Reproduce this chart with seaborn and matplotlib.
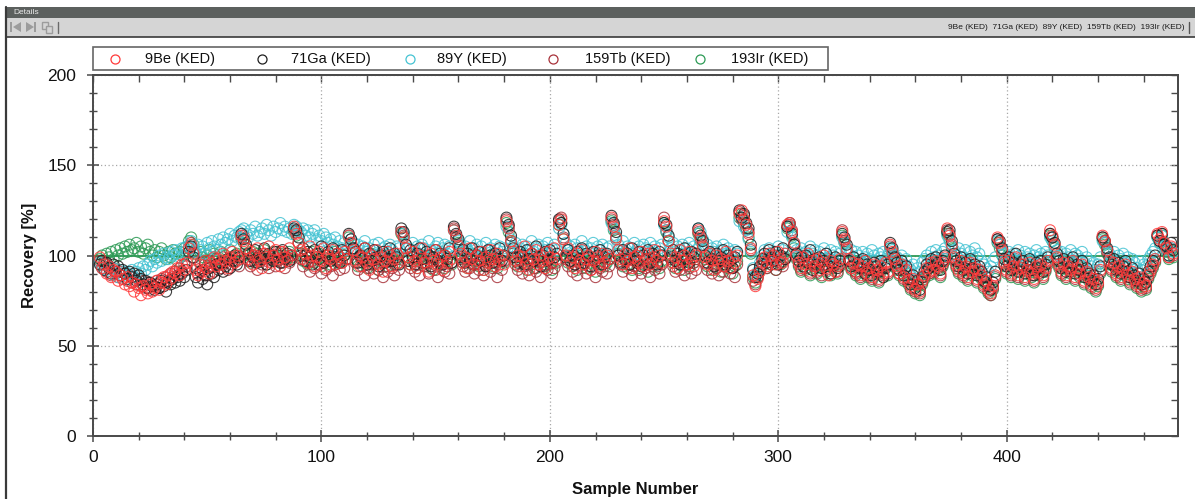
import numpy as np
import pandas as pd
import matplotlib
matplotlib.use("Agg")
import matplotlib.pyplot as plt
import seaborn as sns
from matplotlib.patches import Rectangle, Polygon
from matplotlib.lines import Line2D
from matplotlib.ticker import MultipleLocator

# recovery [%] per sample, one line per calibration block, first sample is no. 3
be9 = """
99 93 95 90 94 88 92 91 86 89 87 84 88 83 85 80 84 82 78 83 81 79 84 80 82 86 81 85 88 84 89 87 91 90 93 89 95 92 96
104 106 101 92 89 95 91 97 93 90 96 99 94 98 95 101 97 93 99 102 96 100 98
111 108 104 98 102 95 100 104 97 93 101 99 105 96 100 103 98 94 102 99 97 104 100
116 112 107 103 98 101 96 105 100 94 99 102 97 104 93 100 98 103 95 101 99 96 102 98
111 107 103 97 101 94 99 104 96 92 100 98 103 95 99 91 97 102 100 94 98 101 96
113 110 104 99 95 102 97 93 100 104 96 98 91 101 97 103 95 99 92 100 96 102 98
114 111 105 101 96 99 93 104 98 95 100 97 102 92 99 96 103 98 94 101 97 100 95
119 115 108 102 97 100 94 99 105 96 92 101 98 103 95 100 97 93 102 99 96 104 98
117 120 109 100 104 96 99 93 101 97 103 95 98 100 92 97 102 99 94 101 96 100 98
121 116 110 103 98 95 101 97 104 93 99 100 96 102 94 98 101 95 99 103 97 100 96
119 116 108 101 96 99 93 103 97 100 95 102 98 94 100
114 110 105 99 95 101 97 92 100 96 98 94 102 97 93 99 96 100
123 125 120 117 112 104 89 83 87 91 96 99 94 101 97 100 95 102 98 96 101
117 118 113 107 100 96 93 99 95 101 91 97 94 98 92 96 100 93 89 97 95 91 94 98
113 109 104 98 93 96 91 95 89 94 97 90 93 88 95 92 87 94 90 96 91
106 102 98 94 90 95 88 92 86 83 87 81 84 80 86 89 93 91 96 92 97 94 90 96 99
115 111 106 99 95 92 97 90 94 88 96 91 93 87 92 89 84 86 81 79 83 89
110 107 103 96 92 97 90 94 99 89 93 95 88 92 96 90 87 94 91 95 89 93 97
114 111 106 99 95 91 96 89 94 92 97 88 93 90 95 86 91 88 84 87 82 85 92
111 108 103 97 93 96 90 94 88 92 95 89 86 91 87 84 88 82 85 83 89 92 95 98
112 109 113 107 104 99 105 101
"""

ga71 = """
95 97 92 96 93 90 95 91 94 89 92 90 87 91 88 90 86 89 87 84 86 82 85 83 81 84 82 86 83 80 85 84 87 85 88 86 90 88 92
102 105 99 88 85 91 87 89 84 93 90 88 95 92 96 91 94 98 93 97 100 95 99
112 109 106 101 97 99 103 96 100 98 104 95 101 99 97 102 100 96 103 98 101 97 100
115 114 110 100 104 97 102 99 95 103 101 98 105 96 100 102 97 104 99 101 96 103 100 98
112 109 104 102 96 100 98 104 95 101 97 103 99 94 100 102 96 98 104 97 101 99 95
115 113 106 97 103 99 95 101 104 98 96 102 100 94 99 103 97 101 95 100 98 104 96
116 112 109 99 103 96 101 98 104 95 100 102 97 99 94 103 100 96 101 98 104 97 100
121 117 111 104 99 96 102 100 95 103 98 101 97 105 99 94 100 102 97 103 96 99 101
120 118 112 99 103 97 100 95 102 98 104 96 101 99 94 102 97 100 103 95 99 101 98
122 118 113 100 96 103 98 101 95 104 99 97 102 94 100 98 103 96 101 99 95 102 100
118 117 111 99 103 97 101 95 100 104 98 96 102 99 101
115 111 108 100 96 102 98 94 101 97 99 103 95 100 97 93 99 102
125 121 123 118 115 106 92 88 90 94 98 101 96 103 99 97 102 95 100 104 98
116 118 112 106 101 97 99 94 100 96 103 92 98 95 99 93 97 101 94 90 96 99 93 97
112 110 106 97 94 99 91 96 93 98 90 95 92 89 96 94 91 97 88 93 95
107 104 99 96 92 97 89 94 87 84 89 82 86 81 88 91 95 93 98 94 99 96 92 97 100
113 114 108 101 97 94 99 92 96 90 98 93 95 89 94 91 86 88 83 81 85 91
109 108 104 98 94 99 92 96 101 91 95 97 90 94 98 92 89 96 93 97 91 95 99
112 110 107 101 97 93 98 91 96 94 99 90 95 92 97 88 93 90 86 89 84 87 94
110 108 104 99 95 98 92 96 90 94 97 91 88 93 89 86 90 84 87 85 91 94 97 100
111 108 112 106 105 100 107 103
"""

y89 = """
96 93 95 92 94 90 93 91 88 92 89 91 87 90 92 88 91 93 90 94 92 95 97 94 98 96 100 97 101 99 98 102 100 103 101 99 104 102 105
105 108 104 102 106 103 105 101 107 104 108 105 103 109 106 110 107 109 112 108 111 110 113
114 115 112 110 114 112 116 111 113 115 112 117 114 111 116 113 115 118 114 116 113 115 112
117 116 114 113 115 111 114 110 112 114 109 111 108 112 110 107 109 106 110 105 108 104 107 103
111 109 107 103 106 101 105 108 102 104 100 106 103 107 101 104 105 102 106 103 100 105 104
113 112 106 104 101 107 103 105 100 106 104 102 108 103 101 105 107 102 104 106 101 105 103
114 111 108 106 102 105 103 108 101 104 106 102 105 100 107 103 104 101 106 103 105 102 104
116 115 109 105 107 102 104 106 101 105 103 108 102 104 106 100 105 103 107 101 104 106 103
115 117 112 107 103 105 101 106 104 102 108 103 105 100 104 107 102 105 103 106 101 104 105
118 115 111 106 103 108 102 105 104 101 107 103 105 100 106 104 102 107 103 105 101 104 106
117 114 110 104 107 102 105 103 106 101 104 107 102 105 103
115 113 109 103 106 101 104 102 105 100 103 106 101 104 102 99 103 101
119 121 116 114 109 102 93 89 91 96 100 103 99 104 101 102 98 105 100 103 101
113 116 110 107 103 100 104 101 102 99 105 101 103 100 102 98 104 101 99 103 100 102 98 101
110 107 104 101 103 99 102 100 97 102 99 101 98 103 100 97 101 99 102 98 100
104 103 100 99 96 100 95 98 94 92 95 90 93 91 96 98 100 97 102 99 103 100 98 102 104
111 108 106 103 100 104 101 99 103 98 102 100 104 99 101 97 95 93 91 94 97 99
108 106 104 101 98 102 99 101 97 103 100 98 102 99 101 97 100 103 99 101 98 102 100
110 108 105 103 100 102 98 101 99 103 97 101 100 98 102 96 99 97 94 96 92 95 99
108 107 103 101 99 102 97 100 98 101 96 99 95 98 96 93 97 92 95 94 98 100 102 104
110 107 111 105 103 100 104 102
"""

tb159 = """
97 93 96 91 94 89 93 90 88 91 87 90 86 89 85 88 84 87 83 86 82 85 81 84 83 86 82 87 85 88 86 90 88 91 89 93 91 95 94
105 107 102 93 90 96 92 95 89 97 94 91 98 95 93 99 96 92 98 95 99 97 94
110 111 104 97 94 100 96 92 99 95 101 97 93 98 100 94 97 102 96 93 99 96 98
114 113 107 98 94 100 96 91 97 93 99 95 90 96 92 98 94 89 95 97 92 96 93 98
111 107 104 96 92 99 94 89 97 93 95 90 98 92 96 88 94 91 97 93 89 95 92
113 111 104 97 93 99 91 95 89 98 94 96 90 93 99 92 88 95 97 91 94 90 96
115 110 106 98 94 91 97 93 100 90 95 92 96 89 94 98 91 93 96 88 95 92 97
120 116 107 99 95 92 97 90 94 98 89 96 93 91 97 88 94 95 92 98 90 93 96
119 121 110 98 94 97 91 95 89 96 93 99 90 94 92 97 88 95 93 91 96 90 94
120 117 109 100 95 91 97 93 98 89 94 96 92 90 97 93 95 88 96 92 94 90 95
121 114 108 98 94 91 96 92 97 89 95 93 90 96 92
113 109 106 96 92 98 90 95 93 89 97 91 94 96 90 93 88 95
124 120 122 115 113 103 86 84 88 92 95 97 93 99 95 98 92 100 96 94 98
116 117 114 106 99 95 92 97 93 99 90 96 94 91 97 89 95 92 98 90 94 96 91 95
114 108 103 97 93 95 90 94 88 96 92 89 93 87 94 91 86 92 89 95 90
105 101 97 93 90 94 87 91 85 82 86 80 84 79 85 88 92 90 95 91 96 93 89 95 98
114 112 105 98 94 91 96 89 93 87 95 90 92 86 91 88 83 85 80 78 82 88
109 106 102 95 91 96 89 93 98 88 92 94 87 91 95 89 86 93 90 94 88 92 96
112 110 105 98 94 90 95 88 93 91 96 87 92 89 94 85 90 87 83 86 81 84 91
110 107 102 96 92 95 89 93 87 91 94 88 85 90 86 83 87 81 84 82 88 91 94 97
111 108 112 106 103 99 104 100
"""

ir193 = """
98 100 97 101 99 102 98 103 100 104 101 105 102 106 103 104 107 102 105 101 104 106 102 100 103 99 102 104 100 98 102 99 103 101 97 102 100 104 101
108 110 106 101 97 102 99 96 100 103 98 101 97 99 102 96 100 98 103 99 97 101 100
109 107 104 100 96 102 98 101 97 99 103 95 100 98 102 97 99 101 96 100 98 102 99
113 111 107 101 97 100 95 99 102 96 98 101 94 99 97 100 95 98 102 96 99 97 100 98
110 107 103 98 94 100 96 99 93 97 101 95 98 92 99 96 100 94 97 99 95 98 96
112 110 104 99 95 97 101 93 98 96 100 94 97 99 92 98 95 100 96 93 99 97 95
114 110 107 100 96 98 93 99 95 101 97 94 98 92 100 96 99 94 97 93 98 100 96
118 113 108 101 97 94 99 96 100 92 98 95 97 93 99 96 101 94 98 95 92 99 97
117 118 109 100 96 99 94 98 92 97 100 95 93 99 96 98 91 97 95 100 94 96 98
119 114 110 101 97 94 99 95 100 92 98 96 93 99 95 97 91 98 94 100 96 93 97
118 113 108 100 96 93 98 95 99 92 97 94 100 96 98
112 108 104 98 94 99 92 96 93 97 91 95 98 93 96 90 94 97
121 123 118 115 110 101 88 85 88 92 94 97 93 99 95 98 92 100 95 97 99
115 116 111 104 98 94 91 96 92 97 89 95 93 90 96 88 94 91 97 89 93 95 90 94
111 107 102 96 92 94 89 93 87 95 91 88 92 86 93 90 85 91 88 94 89
104 100 96 92 89 93 86 90 84 81 85 79 83 78 84 87 91 89 94 90 95 92 88 94 97
112 109 104 97 93 90 95 88 92 86 94 89 91 85 90 87 82 84 79 78 81 87
107 104 100 94 90 95 88 92 97 87 91 93 86 90 94 88 85 92 89 93 87 91 95
111 108 104 97 93 89 94 87 92 90 95 86 91 88 93 84 89 86 82 85 80 83 90
109 106 101 95 91 94 88 92 86 90 93 87 84 89 85 82 86 80 83 81 87 90 93 96
110 107 111 105 102 98 103 99
"""

elements = ["9Be (KED)", "71Ga (KED)", "89Y (KED)", "159Tb (KED)", "193Ir (KED)"]
raw = [be9, ga71, y89, tb159, ir193]
colors = ["#ff3a3a", "#1e1e1e", "#45c3d3", "#a8323a", "#2d9a55"]
palette = dict(zip(elements, colors))

frames = []
for name, txt in zip(elements, raw):
    vals = [float(v) for v in txt.split()]
    frames.append(pd.DataFrame({"sample": np.arange(3, 3 + len(vals)),
                                "recovery": vals, "element": name}))
df = pd.concat(frames, ignore_index=True)

W, H = 1195, 499


def fx(px):
    return px / W


def fy(py):
    return 1 - py / H


sns.set_style("ticks")
plt.rcParams["font.family"] = ["Liberation Sans", "DejaVu Sans"]

fig = plt.figure(figsize=(W / 100, H / 100), dpi=100)
fig.patch.set_facecolor("white")

# window chrome: title bar + toolbar
fig.add_artist(Rectangle((fx(6), fy(18)), 1 - fx(6), 11 / H, transform=fig.transFigure,
                         fc="#5c605e", ec="none"))
fig.add_artist(Rectangle((fx(6), fy(37)), 1 - fx(6), 19 / H, transform=fig.transFigure,
                         fc="#d5d5d5", ec="none"))
fig.add_artist(Line2D([fx(6), 1], [fy(37), fy(37)], transform=fig.transFigure,
                      color="#3a3a3a", lw=1.2))
fig.add_artist(Line2D([fx(6.5), fx(6.5)], [fy(7), 0], transform=fig.transFigure,
                      color="#3a3a3a", lw=1.6))
fig.text(fx(13), fy(12.5), "Details", fontsize=6, color="#e8e8e8", va="center")

icon = "#9c9c9c"
fig.add_artist(Rectangle((fx(10), fy(32)), 2 / W, 10 / H, transform=fig.transFigure, fc=icon, ec="none"))
fig.add_artist(Polygon([(fx(21), fy(22)), (fx(21), fy(32)), (fx(13), fy(27))],
                       transform=fig.transFigure, fc=icon, ec="none"))
fig.add_artist(Polygon([(fx(26), fy(22)), (fx(26), fy(32)), (fx(34), fy(27))],
                       transform=fig.transFigure, fc=icon, ec="none"))
fig.add_artist(Rectangle((fx(34), fy(32)), 2 / W, 10 / H, transform=fig.transFigure, fc=icon, ec="none"))
fig.add_artist(Rectangle((fx(42), fy(29)), 6 / W, 7 / H, transform=fig.transFigure,
                         fc="none", ec=icon, lw=1))
fig.add_artist(Rectangle((fx(46), fy(33)), 6 / W, 7 / H, transform=fig.transFigure,
                         fc="#d5d5d5", ec=icon, lw=1))
fig.add_artist(Line2D([fx(58), fx(58)], [fy(22), fy(33)], transform=fig.transFigure,
                      color="#6a6a6a", lw=1))
fig.text(fx(1184), fy(27.5), "  ".join(elements), fontsize=6, color="#1a1a1a",
         ha="right", va="center")
fig.add_artist(Line2D([fx(1189), fx(1189)], [fy(22), fy(33)], transform=fig.transFigure,
                      color="#555555", lw=1))

# legend box
fig.add_artist(Rectangle((fx(93), fy(70)), 735 / W, 23 / H, transform=fig.transFigure,
                         fc="white", ec="#666666", lw=1.2))
marker_x = [115, 262, 410, 553, 700]
text_x = [145, 291, 437, 585, 731]
for name, mx, tx in zip(elements, marker_x, text_x):
    fig.add_artist(Line2D([fx(mx)], [fy(58.5)], transform=fig.transFigure, marker="o",
                          ms=6.5, mfc="none", mec=palette[name], mew=0.9, ls="none"))
    fig.text(fx(tx), fy(58.5), name, fontsize=10.5, color="#111111", va="center", ha="left")

# plot area
ax = fig.add_axes([fx(93), fy(436), 1085 / W, 361 / H])
ax.set_facecolor("white")

for name in elements[::-1]:
    sub = df[df["element"] == name]
    sns.scatterplot(data=sub, x="sample", y="recovery", ax=ax, color=palette[name],
                    facecolor="none", edgecolor=palette[name], s=62, linewidth=0.8,
                    alpha=0.85, legend=False, zorder=3)

ax.axhline(100, color="#2d9a55", lw=1.3, zorder=2)

ax.set_xlim(0, 475)
ax.set_ylim(0, 200)
ax.xaxis.set_major_locator(MultipleLocator(100))
ax.xaxis.set_minor_locator(MultipleLocator(20))
ax.yaxis.set_major_locator(MultipleLocator(50))
ax.yaxis.set_minor_locator(MultipleLocator(10))
ax.grid(True, which="major", color="#a8a8a8", linestyle=(0, (1, 2)), lw=0.9, zorder=0)

spine_col = "#4a4a4a"
for side in ["left", "bottom", "top", "right"]:
    ax.spines[side].set_visible(True)
    ax.spines[side].set_color(spine_col)
    ax.spines[side].set_linewidth(1.4)

ax.tick_params(which="both", direction="inout", color=spine_col, labelsize=12.5,
               labelcolor="#111111")
ax.tick_params(which="major", length=8, width=1.1)
ax.tick_params(which="minor", length=6, width=1.0)
ax.tick_params(axis="x", which="major", pad=6)
ax.tick_params(axis="y", which="major", pad=8)

top = ax.secondary_xaxis("top")
top.xaxis.set_major_locator(MultipleLocator(100))
top.xaxis.set_minor_locator(MultipleLocator(20))
top.tick_params(which="both", direction="in", labeltop=False, color=spine_col, length=5, width=1)
top.spines["top"].set_color(spine_col)
top.spines["top"].set_linewidth(1.4)

right = ax.secondary_yaxis("right")
right.yaxis.set_major_locator(MultipleLocator(50))
right.yaxis.set_minor_locator(MultipleLocator(10))
right.tick_params(which="both", direction="in", labelright=False, color=spine_col, length=5, width=1)
right.spines["right"].set_color(spine_col)
right.spines["right"].set_linewidth(1.4)

ax.set_xlabel("Sample Number", fontsize=12, fontweight="bold", color="#111111")
ax.xaxis.set_label_coords(0.5, -0.127)
ax.set_ylabel("Recovery [%]", fontsize=12, fontweight="bold", color="#111111")
ax.yaxis.set_label_coords(-0.0515, 0.5)

fig.savefig("out.png", dpi=100)
